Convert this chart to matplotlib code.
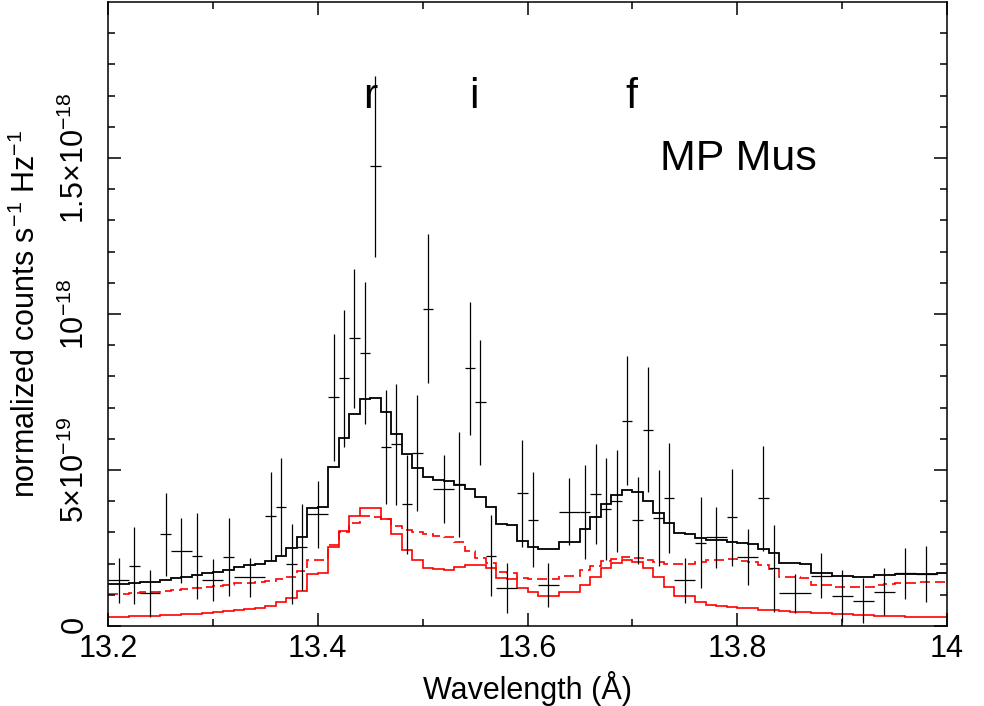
import numpy as np
import matplotlib
matplotlib.use('Agg')
import matplotlib.pyplot as plt

plt.rcParams['font.family'] = ['Liberation Sans', 'DejaVu Sans']
plt.rcParams['mathtext.fontset'] = 'custom'
plt.rcParams['mathtext.rm'] = 'Liberation Sans'
plt.rcParams['mathtext.it'] = 'Liberation Sans:italic'
plt.rcParams['mathtext.bf'] = 'Liberation Sans:bold'

# model bins: 0.01 A wide, 13.2 - 14.0 A
edges = np.linspace(13.2, 14.0, 81)

# total model (black), in units of 1e-19
model_total = [1.34, 1.35, 1.37, 1.40, 1.42, 1.47, 1.53, 1.57, 1.63, 1.69,
               1.73, 1.79, 1.90, 1.94, 1.98, 2.09, 2.24, 2.49, 2.86, 3.78,
               3.82, 5.10, 6.04, 6.80, 7.28, 7.30, 6.87, 6.15, 5.50, 5.05,
               4.78, 4.68, 4.64, 4.52, 4.38, 4.15, 3.80, 3.28, 3.24, 2.73,
               2.54, 2.46, 2.46, 2.68, 2.68, 3.11, 3.50, 3.91, 4.20, 4.35,
               4.29, 4.02, 3.63, 3.29, 2.97, 2.95, 2.81, 2.76, 2.75, 2.70,
               2.65, 2.63, 2.47, 2.33, 2.01, 2.01, 2.00, 1.71, 1.70, 1.61,
               1.60, 1.58, 1.58, 1.63, 1.64, 1.67, 1.67, 1.68, 1.68, 1.70]

# red solid component
model_lines = [0.30, 0.30, 0.31, 0.32, 0.33, 0.34, 0.36, 0.38, 0.40, 0.43,
               0.45, 0.48, 0.52, 0.55, 0.58, 0.64, 0.76, 0.89, 1.12, 1.67,
               1.69, 2.52, 3.04, 3.53, 3.78, 3.77, 3.42, 2.95, 2.44, 2.12,
               1.85, 1.82, 1.81, 1.88, 1.96, 1.96, 1.85, 1.53, 1.52, 1.21,
               1.08, 0.97, 0.97, 1.08, 1.08, 1.31, 1.58, 1.85, 2.01, 2.12,
               2.06, 1.85, 1.58, 1.26, 0.97, 0.95, 0.78, 0.66, 0.64, 0.61,
               0.57, 0.57, 0.52, 0.50, 0.47, 0.46, 0.45, 0.42, 0.41, 0.38,
               0.37, 0.35, 0.34, 0.33, 0.32, 0.31, 0.30, 0.29, 0.29, 0.28]

# red dashed component
model_other = [1.02, 1.04, 1.06, 1.08, 1.10, 1.13, 1.16, 1.19, 1.23, 1.25,
               1.27, 1.30, 1.37, 1.39, 1.40, 1.44, 1.51, 1.58, 1.77, 2.11,
               2.13, 2.60, 3.02, 3.29, 3.53, 3.50, 3.42, 3.20, 3.08, 3.00,
               2.95, 2.87, 2.84, 2.68, 2.41, 2.19, 2.01, 1.73, 1.70, 1.53,
               1.50, 1.50, 1.50, 1.60, 1.60, 1.79, 1.93, 2.08, 2.14, 2.22,
               2.19, 2.12, 2.04, 2.00, 1.99, 1.99, 2.06, 2.11, 2.12, 2.14,
               2.08, 2.06, 1.95, 1.83, 1.56, 1.56, 1.55, 1.31, 1.30, 1.24,
               1.24, 1.26, 1.26, 1.33, 1.34, 1.37, 1.37, 1.40, 1.40, 1.42]

# data points (wavelength centre, half width, value, error), units 1e-19
wave = [13.21, 13.225, 13.24, 13.255, 13.27, 13.285, 13.30, 13.315, 13.335,
        13.355, 13.365, 13.375, 13.385, 13.40, 13.415, 13.425, 13.435, 13.445,
        13.455, 13.465, 13.475, 13.485, 13.495, 13.505, 13.52, 13.535, 13.545,
        13.555, 13.565, 13.58, 13.595, 13.605, 13.62, 13.64, 13.655, 13.665,
        13.675, 13.685, 13.695, 13.705, 13.715, 13.725, 13.735, 13.75, 13.765,
        13.78, 13.795, 13.81, 13.825, 13.835, 13.855, 13.88, 13.90, 13.92,
        13.94, 13.96, 13.98]
wave_hw = [0.01, 0.005, 0.01, 0.005, 0.01, 0.005, 0.01, 0.005, 0.015,
           0.005, 0.005, 0.005, 0.005, 0.01, 0.005, 0.005, 0.005, 0.005,
           0.005, 0.005, 0.005, 0.005, 0.005, 0.005, 0.01, 0.005, 0.005,
           0.005, 0.005, 0.01, 0.005, 0.005, 0.01, 0.01, 0.005, 0.005,
           0.005, 0.005, 0.005, 0.005, 0.005, 0.005, 0.005, 0.01, 0.005,
           0.01, 0.005, 0.01, 0.005, 0.005, 0.015, 0.01, 0.01, 0.01,
           0.01, 0.01, 0.01]
counts = [1.47, 1.93, 1.05, 2.94, 2.41, 2.24, 1.47, 2.20, 1.56,
          3.53, 3.82, 1.98, 2.52, 3.58, 7.33, 7.94, 9.22, 8.75,
          14.73, 5.75, 5.82, 3.90, 5.54, 10.17, 4.39, 4.54, 8.26,
          7.17, 2.25, 1.21, 4.25, 3.40, 1.31, 3.66, 3.66, 4.24,
          3.75, 4.01, 6.58, 3.39, 6.29, 3.46, 4.10, 1.47, 2.67,
          2.84, 3.48, 2.20, 4.09, 1.85, 1.05, 1.61, 0.97, 0.81,
          1.10, 1.69, 1.66]
counts_err = [0.72, 1.24, 0.76, 1.33, 1.04, 1.38, 0.67, 1.25, 0.62,
              1.40, 1.55, 1.28, 1.38, 1.07, 2.04, 2.20, 2.23, 2.28,
              2.90, 1.83, 1.94, 1.59, 1.85, 2.39, 1.10, 1.69, 2.14,
              2.00, 1.30, 0.80, 1.72, 1.52, 0.71, 1.07, 1.50, 1.60,
              1.65, 1.63, 2.07, 1.39, 2.00, 1.55, 1.77, 0.72, 1.46,
              0.97, 1.56, 0.90, 1.67, 1.39, 0.62, 0.72, 0.83, 0.72,
              0.76, 0.82, 0.89]

line_names = ['r', 'i', 'f']
line_waves = [13.450, 13.549, 13.699]

scale = 1e-19

fig = plt.figure(figsize=(9.84, 7.06), dpi=100)
ax = fig.add_axes([0.1098, 0.1133, 0.8526, 0.8839])

ax.errorbar(wave, np.array(counts) * scale, xerr=wave_hw,
            yerr=np.array(counts_err) * scale, fmt='none',
            ecolor='black', elinewidth=0.9, capsize=0)
ax.stairs(np.array(model_total) * scale, edges, baseline=None,
          color='black', lw=1.3)
ax.stairs(np.array(model_lines) * scale, edges, baseline=None,
          color='red', lw=1.2)
ax.stairs(np.array(model_other) * scale, edges, baseline=None,
          color='red', lw=1.2, linestyle=(0, (6, 3)))

ax.set_xlim(13.2, 14.0)
ax.set_ylim(0, 2e-18)

ax.set_xticks([13.2, 13.4, 13.6, 13.8, 14.0])
ax.set_xticklabels(['13.2', '13.4', '13.6', '13.8', '14'])
ax.set_xticks(np.arange(13.3, 14.0, 0.2), minor=True)
ax.set_yticks([0, 5e-19, 1e-18, 1.5e-18])
ax.set_yticklabels([r'$0$', r'$5{\times}10^{-19}$', r'$10^{-18}$',
                    r'$1.5{\times}10^{-18}$'], rotation=90, va='center')
ax.set_yticks(np.arange(1, 20) * 1e-19, minor=True)

ax.tick_params(which='both', direction='in', top=True, right=True,
               width=1.1, labelsize=22)
ax.tick_params(which='major', length=9.5)
ax.tick_params(which='minor', length=5)
ax.tick_params(axis='x', pad=6)
ax.tick_params(axis='y', pad=12)
for sp in ax.spines.values():
    sp.set_linewidth(1.1)

ax.set_xlabel('Wavelength (Å)', fontsize=22)
ax.set_ylabel(r'normalized counts s$^{-1}$ Hz$^{-1}$', fontsize=22)
ax.xaxis.set_label_coords(0.5, -0.072)
ax.yaxis.set_label_coords(-0.079, 0.5)

for name, lam in zip(line_names, line_waves):
    ax.text(lam, 1.661e-18, name, fontsize=31, ha='center', va='baseline')
ax.text(13.7263, 1.4615e-18, 'MP Mus', fontsize=31, ha='left', va='baseline')

fig.savefig('out.png', dpi=100)
